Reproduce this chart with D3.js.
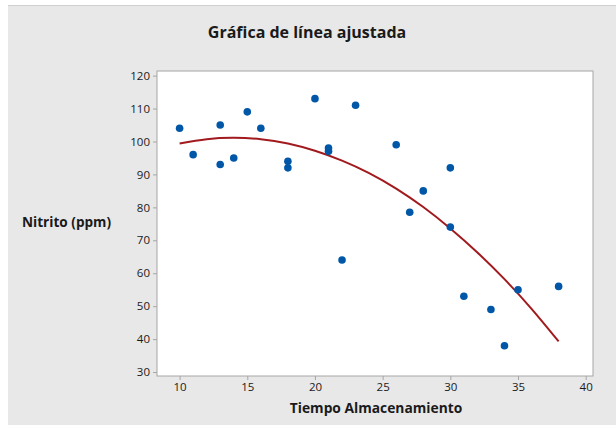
<!DOCTYPE html>
<html>
<head>
<meta charset="utf-8">
<script src="https://cdn.jsdelivr.net/npm/d3@7"></script>
<style>
  body { margin: 0; background: #fff; }
  text { font-family: "Open Sans", "DejaVu Sans", sans-serif; fill: #1a1a1a; }
</style>
</head>
<body>
<div id="chart"></div>
<script>
// observed points
const tiempo  = [10, 11, 13, 13, 14, 15, 16, 18, 18, 20, 21, 21, 22, 23, 26, 27, 28, 30, 30, 31, 33, 34, 35, 38];
const nitrito = [104, 96, 105, 93, 95, 109, 104, 94, 92, 113, 98, 97, 64, 111, 99, 78.5, 85, 92, 74, 53, 49, 38, 55, 56];

// fitted curve
const fitX = [10, 12, 14, 16, 18, 20, 22, 24, 26, 28, 30, 32, 34, 36, 38];
const fitY = [99.4, 100.7, 101.1, 100.7, 99.4, 97.2, 94.2, 90.4, 85.7, 80.1, 73.6, 66.3, 58.2, 49.2, 39.3];

const xTicks = [10, 15, 20, 25, 30, 35, 40];
const yTicks = [30, 40, 50, 60, 70, 80, 90, 100, 110, 120];

const W = 616, H = 425;
const plot = { left: 157, top: 71, right: 593, bottom: 376 };

const svg = d3.select('#chart').append('svg')
  .attr('width', W)
  .attr('height', H);

// grey panel
svg.append('rect')
  .attr('x', 8).attr('y', 5)
  .attr('width', W - 8).attr('height', H - 5)
  .attr('fill', '#e8e8e8');
svg.append('line')
  .attr('x1', 8).attr('x2', W).attr('y1', 5.5).attr('y2', 5.5)
  .attr('stroke', '#cfcfcf');

const x = d3.scaleLinear().domain([8.33, 40.54]).range([plot.left, plot.right]);
const y = d3.scaleLinear().domain([28.8, 121.4]).range([plot.bottom, plot.top]);

svg.append('rect')
  .attr('x', plot.left).attr('y', plot.top)
  .attr('width', plot.right - plot.left).attr('height', plot.bottom - plot.top)
  .attr('fill', '#fff')
  .attr('stroke', '#a6a6a6');

// axes
const xAxis = svg.append('g')
  .attr('transform', `translate(0,${plot.bottom})`)
  .call(d3.axisBottom(x).tickValues(xTicks).tickSize(4).tickPadding(3));
const yAxis = svg.append('g')
  .attr('transform', `translate(${plot.left},0)`)
  .call(d3.axisLeft(y).tickValues(yTicks).tickSize(4).tickPadding(3));

[xAxis, yAxis].forEach(g => {
  g.select('.domain').remove();
  g.selectAll('.tick line').attr('stroke', '#a6a6a6');
  g.selectAll('.tick text').style('font-size', '11.5px').attr('fill', '#1a1a1a');
});

// fitted line
svg.append('path')
  .datum(fitX.map((d, i) => [d, fitY[i]]))
  .attr('fill', 'none')
  .attr('stroke', '#a11a1e')
  .attr('stroke-width', 2)
  .attr('d', d3.line().x(d => x(d[0])).y(d => y(d[1])).curve(d3.curveNatural));

// points
svg.append('g').selectAll('circle')
  .data(tiempo.map((d, i) => [d, nitrito[i]]))
  .join('circle')
  .attr('cx', d => x(d[0]))
  .attr('cy', d => y(d[1]))
  .attr('r', 3.8)
  .attr('fill', '#0057a8');

// titles
svg.append('text')
  .attr('x', 307).attr('y', 38)
  .attr('text-anchor', 'middle')
  .style('font-size', '16px').style('font-weight', 'bold')
  .text('Gráfica de línea ajustada');

svg.append('text')
  .attr('x', 376).attr('y', 413)
  .attr('text-anchor', 'middle')
  .style('font-size', '13.8px').style('font-weight', 'bold')
  .text('Tiempo Almacenamiento');

svg.append('text')
  .attr('x', 22).attr('y', 227)
  .style('font-size', '13.6px').style('font-weight', 'bold')
  .text('Nitrito (ppm)');
</script>
</body>
</html>
